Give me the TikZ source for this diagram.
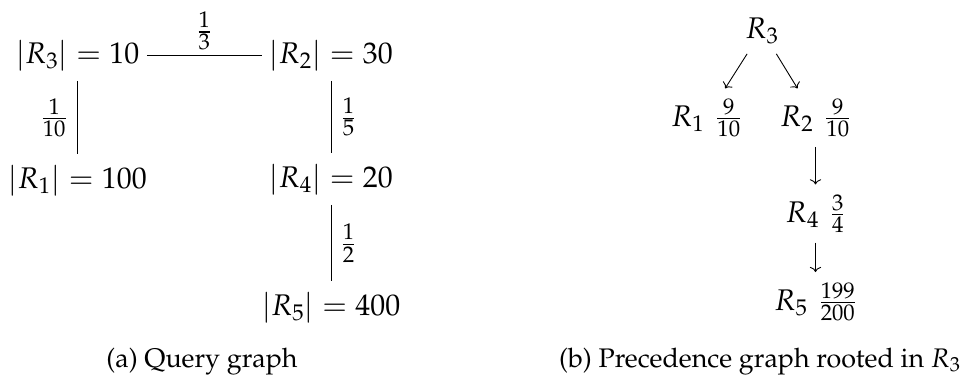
\documentclass[tikz,border=0pt]{standalone}
\usepackage[T1]{fontenc}
\usepackage{mathpazo}
\usetikzlibrary{arrows.meta}
\begin{document}
\begin{tikzpicture}[x=0.67pt,y=-0.67pt,
  vtx/.style={font=\fontsize{20}{24}\selectfont, anchor=base, inner xsep=5pt, inner ysep=6.7pt},
  lbl/.style={font=\fontsize{20}{24}\selectfont, inner sep=6.5pt},
  captext/.style={font=\fontsize{18}{22}\selectfont, anchor=base},
  lnk/.style={line width=0.6pt},
  arr/.style={line width=0.6pt,-{To[length=3.5pt,width=7.5pt]}}]
\useasboundingbox (0,0) rectangle (968,380);
% query graph
\node[vtx] (q3) at (77.5,63) {$|R_3| = 10$};
\node[vtx] (q2) at (331,63) {$|R_2| = 30$};
\node[vtx] (q1) at (77.5,188) {$|R_1| = 100$};
\node[vtx] (q4) at (331,187) {$|R_4| = 20$};
\node[vtx] (q5) at (331,315) {$|R_5| = 400$};
\draw[lnk] (q3) -- node[lbl, above, inner sep=3pt] {$\frac{1}{3}$} (q2);
\draw[lnk] (q3) -- node[lbl, left] {$\frac{1}{10}$} (q1);
\draw[lnk] (q2) -- node[lbl, right] {$\frac{1}{5}$} (q4);
\draw[lnk] (q4) -- node[lbl, right] {$\frac{1}{2}$} (q5);
% precedence graph
\node[vtx] (p3) at (762,38) {$R_3$};
\node[vtx] (p1) at (706.5,126) {$R_1$\hspace{7.5pt}$\frac{9}{10}$};
\node[vtx] (p2) at (815.5,126) {$R_2$\hspace{7.5pt}$\frac{9}{10}$};
\node[vtx] (p4) at (815.5,222) {$R_4$\hspace{7.5pt}$\frac{3}{4}$};
\node[vtx] (p5) at (815.5,310) {$R_5$\hspace{7.5pt}$\frac{199}{200}$};
\draw[arr] (p3) -- (p1);
\draw[arr] (p3) -- (p2);
\draw[arr] (p2) -- (p4);
\draw[arr] (p4) -- (p5);
% captions
\node[captext] (ca) at (202,367) {(a) Query graph};
\node[captext] (cb) at (760,367) {(b) Precedence graph rooted in $R_3$};
\end{tikzpicture}
\end{document}
